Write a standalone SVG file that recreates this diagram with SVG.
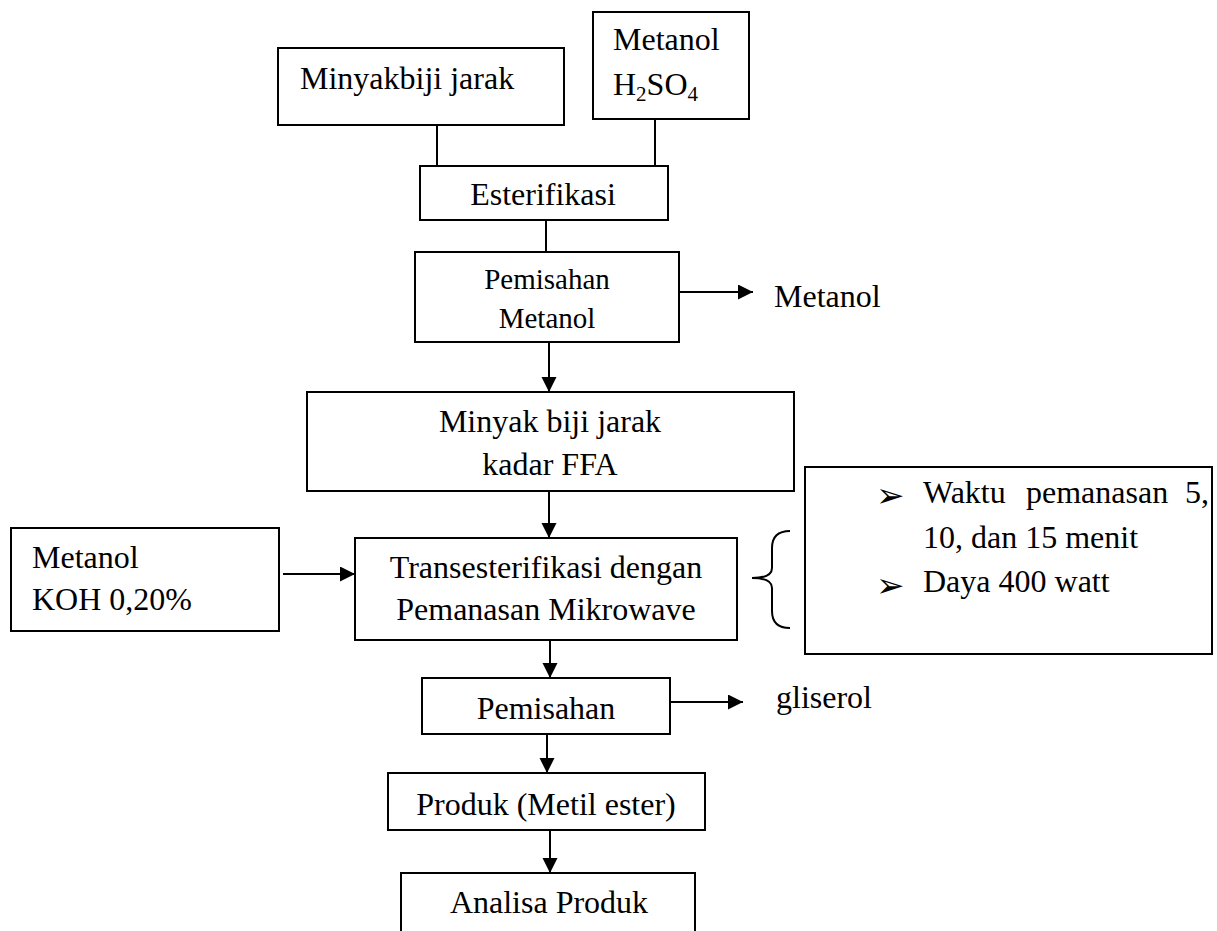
<svg xmlns="http://www.w3.org/2000/svg" width="1217" height="931" viewBox="0 0 1217 931">
<style>
.box{fill:#fff;stroke:#000;stroke-width:2}
.t{font-family:"Liberation Serif","Times New Roman",serif;font-size:32px;fill:#000}
.s{font-size:29px}
.m{text-anchor:middle}
.c{fill:none;stroke:#000;stroke-width:2}
.b{font-family:"DejaVu Sans",sans-serif;font-size:34px;fill:#000}
</style>
<defs>
<marker id="ah" markerUnits="userSpaceOnUse" markerWidth="16" markerHeight="16" refX="15" refY="7.5" orient="auto">
<path d="M0,0 L15,7.5 L0,15 Z" fill="#000"/>
</marker>
</defs>
<rect width="1217" height="931" fill="#fff"/>
<g id="connectors">
<line class="c" x1="437" y1="125" x2="437" y2="166"/>
<line class="c" x1="655" y1="119" x2="655" y2="166"/>
<line class="c" x1="546" y1="220" x2="546" y2="252"/>
<line class="c" x1="676" y1="292" x2="753" y2="292" marker-end="url(#ah)"/>
<line class="c" x1="549" y1="342" x2="549" y2="392" marker-end="url(#ah)"/>
<line class="c" x1="549" y1="491" x2="549" y2="538" marker-end="url(#ah)"/>
<line class="c" x1="283" y1="574" x2="355" y2="574" marker-end="url(#ah)"/>
<line class="c" x1="550" y1="640" x2="550" y2="678" marker-end="url(#ah)"/>
<line class="c" x1="670" y1="702" x2="743" y2="702" marker-end="url(#ah)"/>
<line class="c" x1="547" y1="734" x2="547" y2="773" marker-end="url(#ah)"/>
<line class="c" x1="550" y1="830" x2="550" y2="873" marker-end="url(#ah)"/>
<path class="c" stroke-width="1.5" d="M790,531 Q772,531 772,548 L772,568 Q772,578 752,578 Q772,578 772,588 L772,611 Q772,628 790,628"/>
</g>
<g id="minyak">
<rect class="box" x="278" y="48" width="286" height="77"/>
<text class="t" x="300" y="89">Minyakbiji jarak</text>
</g>
<g id="metanol-h2so4">
<rect class="box" x="593" y="12" width="156" height="107"/>
<text class="t" x="613" y="50">Metanol</text>
<text class="t" x="613" y="95">H<tspan font-size="21" dy="6">2</tspan><tspan dy="-6">SO</tspan><tspan font-size="21" dy="6">4</tspan></text>
</g>
<g id="esterifikasi">
<rect class="box" x="420" y="166" width="248" height="54"/>
<text class="t m" x="543" y="205">Esterifikasi</text>
</g>
<g id="pemisahan-metanol">
<rect class="box" x="415" y="252" width="264" height="90"/>
<text class="t s m" x="547" y="289">Pemisahan</text>
<text class="t s m" x="547" y="328">Metanol</text>
</g>
<g id="metanol-out">
<text class="t" x="774" y="307">Metanol</text>
</g>
<g id="ffa">
<rect class="box" x="307" y="392" width="487" height="99"/>
<text class="t m" x="550" y="432">Minyak biji jarak</text>
<text class="t m" x="550" y="475">kadar FFA</text>
</g>
<g id="metanol-koh">
<rect class="box" x="11" y="528" width="268" height="103"/>
<text class="t" x="32" y="568">Metanol</text>
<text class="t" x="32" y="610">KOH 0,20%</text>
</g>
<g id="transesterifikasi">
<rect class="box" x="355" y="538" width="382" height="102"/>
<text class="t m" x="546" y="578">Transesterifikasi dengan</text>
<text class="t m" x="546" y="620">Pemanasan Mikrowave</text>
</g>
<g id="kondisi">
<rect class="box" x="805" y="467" width="407" height="187"/>
<text class="b" x="876" y="507">➢</text>
<text class="t" y="503"><tspan x="923">Waktu</tspan><tspan x="1026">pemanasan</tspan><tspan x="1185">5,</tspan></text>
<text class="t" x="923" y="548">10, dan 15 menit</text>
<text class="b" x="876" y="597">➢</text>
<text class="t" x="923" y="592">Daya 400 watt</text>
</g>
<g id="pemisahan">
<rect class="box" x="422" y="678" width="248" height="56"/>
<text class="t m" x="546" y="719">Pemisahan</text>
</g>
<g id="gliserol">
<text class="t" x="776" y="708">gliserol</text>
</g>
<g id="produk">
<rect class="box" x="388" y="773" width="317" height="57"/>
<text class="t m" x="546" y="815">Produk (Metil ester)</text>
</g>
<g id="analisa">
<rect class="box" x="401" y="873" width="294" height="80"/>
<text class="t m" x="549" y="913">Analisa Produk</text>
</g>
</svg>
